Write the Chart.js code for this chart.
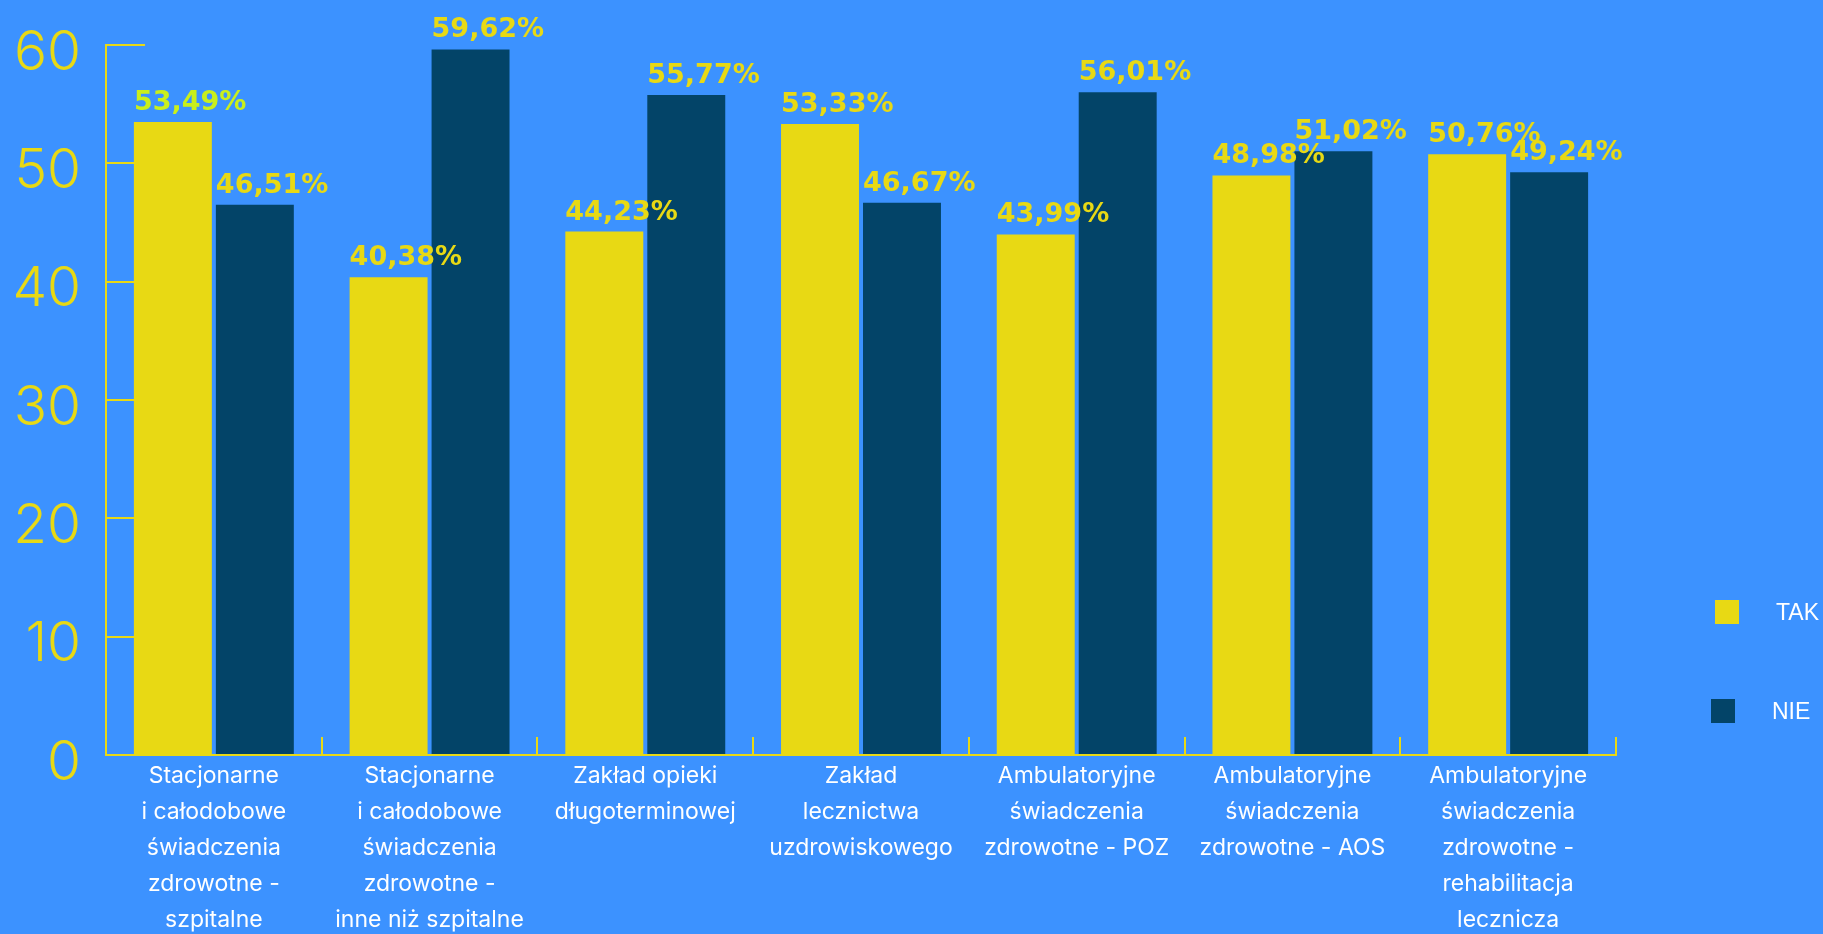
<!DOCTYPE html>
<html>
<head>
<meta charset="utf-8">
<script src="https://cdn.jsdelivr.net/npm/chart.js@4.4.1/dist/chart.umd.min.js"></script>
<style>
  html, body { margin: 0; padding: 0; background: #3c92ff; }
  #wrap { position: relative; width: 1823px; height: 934px; }
  canvas { display: block; }
  .leg { position: absolute; left: 0; top: 0; font-family: "Liberation Sans", Arial, sans-serif; font-size: 23px; color: #ffffff; }
  .leg .sw { position: absolute; width: 24px; height: 24px; }
  .leg .tx { position: absolute; white-space: nowrap; line-height: 24px; }
</style>
</head>
<body>
<div id="wrap">
  <canvas id="c" width="1823" height="934"></canvas>
  <div id="legend"></div>
</div>
<script>
const categories = [
  ["Stacjonarne", "i całodobowe", "świadczenia", "zdrowotne -", "szpitalne"],
  ["Stacjonarne", "i całodobowe", "świadczenia", "zdrowotne -", "inne niż szpitalne"],
  ["Zakład opieki", "długoterminowej"],
  ["Zakład", "lecznictwa", "uzdrowiskowego"],
  ["Ambulatoryjne", "świadczenia", "zdrowotne - POZ"],
  ["Ambulatoryjne", "świadczenia", "zdrowotne - AOS"],
  ["Ambulatoryjne", "świadczenia", "zdrowotne -", "rehabilitacja", "lecznicza"]
];
const seriesNames = ["TAK", "NIE"];
const takValues = [53.49, 40.38, 44.23, 53.33, 43.99, 48.98, 50.76];
const nieValues = [46.51, 59.62, 55.77, 46.67, 56.01, 51.02, 49.24];
const yTicks = [0, 10, 20, 30, 40, 50, 60];

const YELLOW = "#e8d914";
const NAVY = "#034468";
const LIME = "#c9ef1c";

const dataLabelPlugin = {
  id: "dataLabels",
  afterDatasetsDraw(chart) {
    const ctx = chart.ctx;
    ctx.save();
    ctx.font = "bold 27px 'DejaVu Sans', sans-serif";
    ctx.textAlign = "left";
    ctx.textBaseline = "alphabetic";
    chart.data.datasets.forEach((ds, di) => {
      const meta = chart.getDatasetMeta(di);
      meta.data.forEach((bar, i) => {
        const v = ds.data[i];
        const txt = v.toFixed(2).replace(".", ",") + "%";
        ctx.fillStyle = (di === 0 && i === 0) ? LIME : YELLOW;
        ctx.fillText(txt, bar.x - bar.width / 2, bar.y - 12);
      });
    });
    ctx.restore();
  }
};

const chart = new Chart(document.getElementById("c"), {
  type: "bar",
  data: {
    labels: categories,
    datasets: [
      { label: seriesNames[0], data: takValues, backgroundColor: YELLOW, categoryPercentage: 0.76, barPercentage: 0.951 },
      { label: seriesNames[1], data: nieValues, backgroundColor: NAVY, categoryPercentage: 0.76, barPercentage: 0.951 }
    ]
  },
  options: {
    responsive: false,
    animation: false,
    layout: { padding: { top: 0, right: 207, left: 0, bottom: 0 } },
    plugins: { legend: { display: false }, tooltip: { enabled: false } },
    scales: {
      x: {
        offset: true,
        grid: { offset: true, drawOnChartArea: false, drawTicks: true, tickLength: -18, color: YELLOW, lineWidth: 2 },
        border: { display: true, color: YELLOW, width: 2 },
        ticks: {
          color: "#ffffff",
          padding: 21,
          maxRotation: 0,
          autoSkip: false,
          font: { family: "Inter, sans-serif", size: 23, lineHeight: 1.57 }
        },
        afterFit(scale) { scale.height = 179; }
      },
      y: {
        min: 0,
        max: 60,
        afterBuildTicks(scale) { scale.ticks = yTicks.map(v => ({ value: v })); },
        grid: { drawOnChartArea: false, drawTicks: true, tickLength: -39, color: YELLOW, lineWidth: 2 },
        border: { display: true, color: YELLOW, width: 2 },
        ticks: {
          color: YELLOW,
          padding: 64,
          labelOffset: 8,
          font: { family: "Inter, sans-serif", size: 55, weight: 300, lineHeight: 1.0 }
        },
        afterFit(scale) { scale.width = 106; scale.paddingTop = 45; }
      }
    }
  },
  plugins: [dataLabelPlugin]
});

// legend built from the chart's datasets
const legendPos = [
  { sx: 1715, sy: 600, tx: 1776 },
  { sx: 1711, sy: 699, tx: 1772 }
];
const legendEl = document.getElementById("legend");
chart.data.datasets.forEach((ds, i) => {
  const p = legendPos[i];
  const item = document.createElement("div");
  item.className = "leg";
  const sw = document.createElement("div");
  sw.className = "sw";
  sw.style.left = p.sx + "px";
  sw.style.top = p.sy + "px";
  sw.style.background = ds.backgroundColor;
  const tx = document.createElement("div");
  tx.className = "tx";
  tx.style.left = p.tx + "px";
  tx.style.top = p.sy + "px";
  tx.textContent = ds.label;
  item.appendChild(sw);
  item.appendChild(tx);
  legendEl.appendChild(item);
});
</script>
</body>
</html>
